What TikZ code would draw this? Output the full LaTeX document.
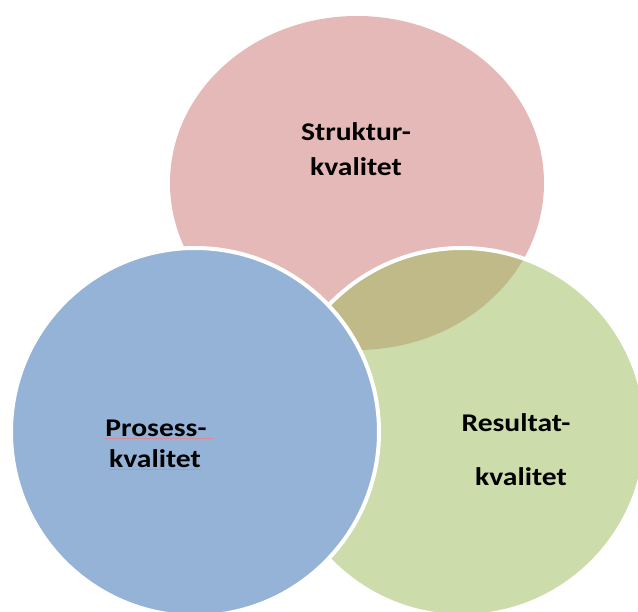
\documentclass[tikz,border=0pt]{standalone}
\usepackage{fontspec}
\setmainfont{Carlito}
\definecolor{pinkc}{HTML}{C0504D}
\definecolor{greenc}{HTML}{9BBB59}
\definecolor{bluec}{HTML}{95B3D7}
\definecolor{spellred}{HTML}{D98A95}
\begin{document}
\begin{tikzpicture}[x=1pt,y=-1pt,
  lbl/.style={font=\fontsize{25.5}{30}\selectfont\bfseries, inner sep=0pt, anchor=base, xscale=1.16, transform shape},
  spell/.style={spellred, line width=0.4pt}]
\useasboundingbox (0,0) rectangle (638,612);
\clip (0,0) rectangle (638,612);
\fill[white] (0,0) rectangle (638,612);
% Struktur (pink ellipse)
\fill[pinkc, fill opacity=0.4] (357,183) ellipse [x radius=187pt, y radius=167pt];
\coordinate (s) at (357,183);
% Resultat (green circle)
\fill[greenc, fill opacity=0.5] (462,432) circle [radius=184pt];
\draw[white, line width=4pt] (462,432) circle [radius=184pt];
\coordinate (r) at (462,432);
% Prosess (blue circle)
\fill[bluec] (195,432) circle [radius=184pt];
\draw[white, line width=4pt] (195,432) circle [radius=184pt];
\coordinate (p) at (195,432);
% labels
\node[lbl] (s1) at (356,141) {Struktur-};
\node[lbl] (s2) at (356,176) {kvalitet};
\node[lbl] (p1) at (156,437) {Prosess-};
\node[lbl] (p2) at (155,468) {kvalitet};
\node[lbl] (r1) at (516,432) {Resultat-};
\node[lbl] (r2) at (521,486) {kvalitet};
\draw[spell] ([yshift=-1.5pt]p1.base west) -- ([yshift=-1.5pt,xshift=6pt]p1.base east);
\draw[spell] ([yshift=-1.5pt]p2.base west) -- ([yshift=-1.5pt]p2.base east);
\end{tikzpicture}
\end{document}
